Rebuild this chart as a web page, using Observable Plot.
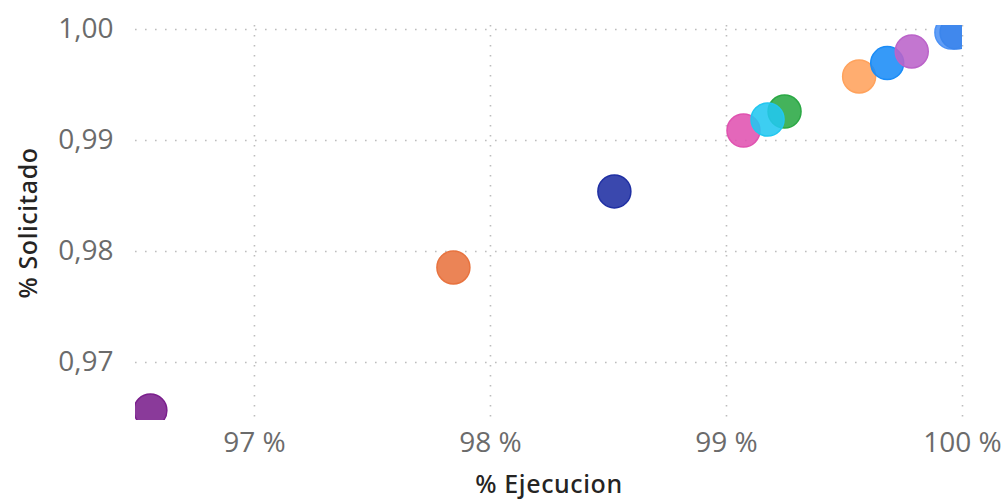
<!DOCTYPE html>
<html>
<head>
<meta charset="utf-8">
<script src="https://cdn.jsdelivr.net/npm/d3@7"></script>
<script src="https://cdn.jsdelivr.net/npm/@observablehq/plot@0.6"></script>
<style>
  html, body { margin: 0; padding: 0; background: #fff; }
  #chart svg { display: block; }
  g[aria-label="x-axis tick label"] text, g[aria-label="y-axis tick label"] text {
    font-family: "Open Sans", "Noto Sans", sans-serif; font-weight: 400; font-size: 28px; fill: #6b6b6b;
  }
  g[aria-label="x-axis label"] text, g[aria-label="y-axis label"] text {
    font-family: "Noto Sans", "Open Sans", sans-serif; font-weight: 500; font-size: 25px; fill: #252423; letter-spacing: 0.6px;
  }
</style>
</head>
<body>
<div id="chart"></div>
<script>
// Categories (one bubble each)
const categories = ["A", "B", "C", "D", "E", "F", "G", "H", "I", "J", "K"];
// % Ejecucion (x)
const ejecucion = [96.559, 97.843, 98.525, 99.072, 99.246, 99.174, 99.562, 99.681, 99.785, 99.953, 99.975];
// % Solicitado (y)
const solicitado = [0.96568, 0.97856, 0.98541, 0.99090, 0.99261, 0.99189, 0.99577, 0.99697, 0.99802, 0.99973, 0.99973];
// Colours per category
const colors = ["#7a1f8c", "#e8733f", "#1f2fa3", "#e052b0", "#2aa844", "#22c7f0", "#ffa25c", "#1a8cf7", "#bb63c9", "#4b91f5", "#3b85ec"];
// Tick values
const xTicks = [97, 98, 99, 100];
const yTicks = [0.97, 0.98, 0.99, 1.00];

const data = categories.map((c, i) => ({cat: c, x: ejecucion[i], y: solicitado[i]}));

const chart = Plot.plot({
  width: 1001,
  height: 500,
  marginLeft: 135,
  marginRight: 39,
  marginTop: 25,
  marginBottom: 80,
  style: {fontSize: "24px", background: "#fff"},
  x: {domain: [96.496, 100.0], ticks: xTicks, tickFormat: d => d + " %", label: "% Ejecucion"},
  y: {domain: [0.96477, 1.00036], ticks: yTicks, tickFormat: d => d.toFixed(2).replace(".", ","), label: "% Solicitado"},
  color: {domain: categories, range: colors},
  marks: [
    Plot.gridX(xTicks, {stroke: "#bdbdbd", strokeOpacity: 1, strokeWidth: 1.6, strokeDasharray: "1.6,8.4"}),
    Plot.gridY(yTicks, {stroke: "#bdbdbd", strokeOpacity: 1, strokeWidth: 1.6, strokeDasharray: "1.6,8.4"}),
    Plot.axisX({ticks: xTicks, tickSize: 0, tickPadding: 12, tickFormat: d => d + " %",
      label: "% Ejecucion", labelAnchor: "center", labelArrow: "none", labelOffset: 72}),
    Plot.axisY({ticks: yTicks, tickSize: 0, tickPadding: 22, tickFormat: d => d.toFixed(2).replace(".", ","),
      label: "% Solicitado", labelAnchor: "center", labelArrow: "none", labelOffset: 116}),
    Plot.dot(data, {x: "x", y: "y", fill: "cat", stroke: "cat", r: 16.5, fillOpacity: 0.88, strokeWidth: 1.5, clip: true})
  ]
});
document.getElementById("chart").appendChild(chart);
</script>
</body>
</html>
